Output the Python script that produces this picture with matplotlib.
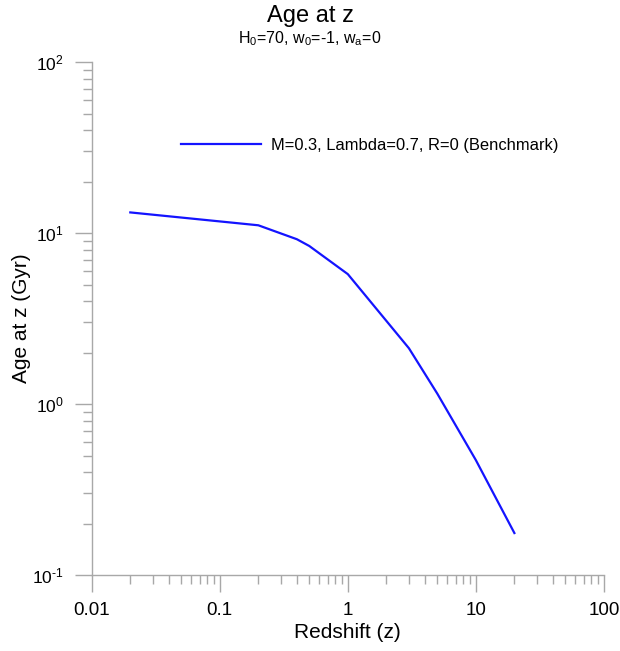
import matplotlib.pyplot as plt
from matplotlib.ticker import FixedLocator, LogLocator, NullFormatter, FixedFormatter

plt.rcParams['font.family'] = ['Liberation Sans', 'DejaVu Sans']
plt.rcParams['mathtext.fontset'] = 'custom'
plt.rcParams['mathtext.rm'] = 'Liberation Sans'
plt.rcParams['mathtext.it'] = 'Liberation Sans:italic'

# Données
redshift = [0.02, 0.2, 0.4, 0.5, 1, 3, 5, 10, 20]
age = [13.2, 11.1, 9.2, 8.4, 5.75, 2.12, 1.15, 0.47, 0.176]
serie = 'M=0.3, Lambda=0.7, R=0 (Benchmark)'

x_ticks = [0.01, 0.1, 1, 10, 100]
x_labels = ['0.01', '0.1', '1', '10', '100']
y_ticks = [0.1, 1, 10, 100]
y_labels = ['$10^{\\text{-}1}$', '$10^{0}$', '$10^{1}$', '$10^{2}$']

gris = '#a8a8a8'

fig = plt.figure(figsize=(6.2, 6.51), dpi=100)
ax = fig.add_axes([0.148, 0.1167, 0.826, 0.788])
ax.plot(redshift, age, color='#1414ff', lw=1.6, label=serie)
ax.set_xscale('log')
ax.set_yscale('log')
ax.set_xlim(0.01, 100)
ax.set_ylim(0.1, 100)

ax.xaxis.set_major_locator(FixedLocator(x_ticks))
ax.xaxis.set_major_formatter(FixedFormatter(x_labels))
ax.yaxis.set_major_locator(FixedLocator(y_ticks))
ax.yaxis.set_major_formatter(FixedFormatter(y_labels))
for a in (ax.xaxis, ax.yaxis):
    a.set_minor_locator(LogLocator(base=10, subs=range(2, 10)))
    a.set_minor_formatter(NullFormatter())

# longueurs en points (17 px et 9 px à 100 dpi)
ax.tick_params(which='major', direction='out', length=12.2, width=1, color=gris, pad=7)
ax.tick_params(which='minor', direction='out', length=6.5, width=1, color=gris)
ax.tick_params(axis='x', which='major', labelsize=13.5, pad=7)
ax.tick_params(axis='y', which='major', labelsize=12.5, pad=8)
for s in ['top', 'right']:
    ax.spines[s].set_visible(False)
for s in ['left', 'bottom']:
    ax.spines[s].set_color(gris)
    ax.spines[s].set_linewidth(1)

ax.set_xlabel('Redshift (z)', fontsize=15)
ax.set_ylabel('Age at z (Gyr)', fontsize=15)
ax.xaxis.set_label_coords(0.5, -0.113)
ax.yaxis.set_label_coords(-0.137, 0.5)
ax.xaxis.label.set_va('center')
ax.yaxis.label.set_va('center')

fig.text(0.5, 0.976, 'Age at z', ha='center', va='center', fontsize=17)
fig.text(0.5, 0.94, '$\\mathrm{H_0}$=70, $\\mathrm{w_0}$=-1, $\\mathrm{w_a}$=0', ha='center', va='center', fontsize=11.5)

ax.legend(loc='center left', bbox_to_anchor=(0.145, 0.837), frameon=False, fontsize=11.9,
          handlelength=4.85, handletextpad=0.6)

plt.savefig('out.png')
